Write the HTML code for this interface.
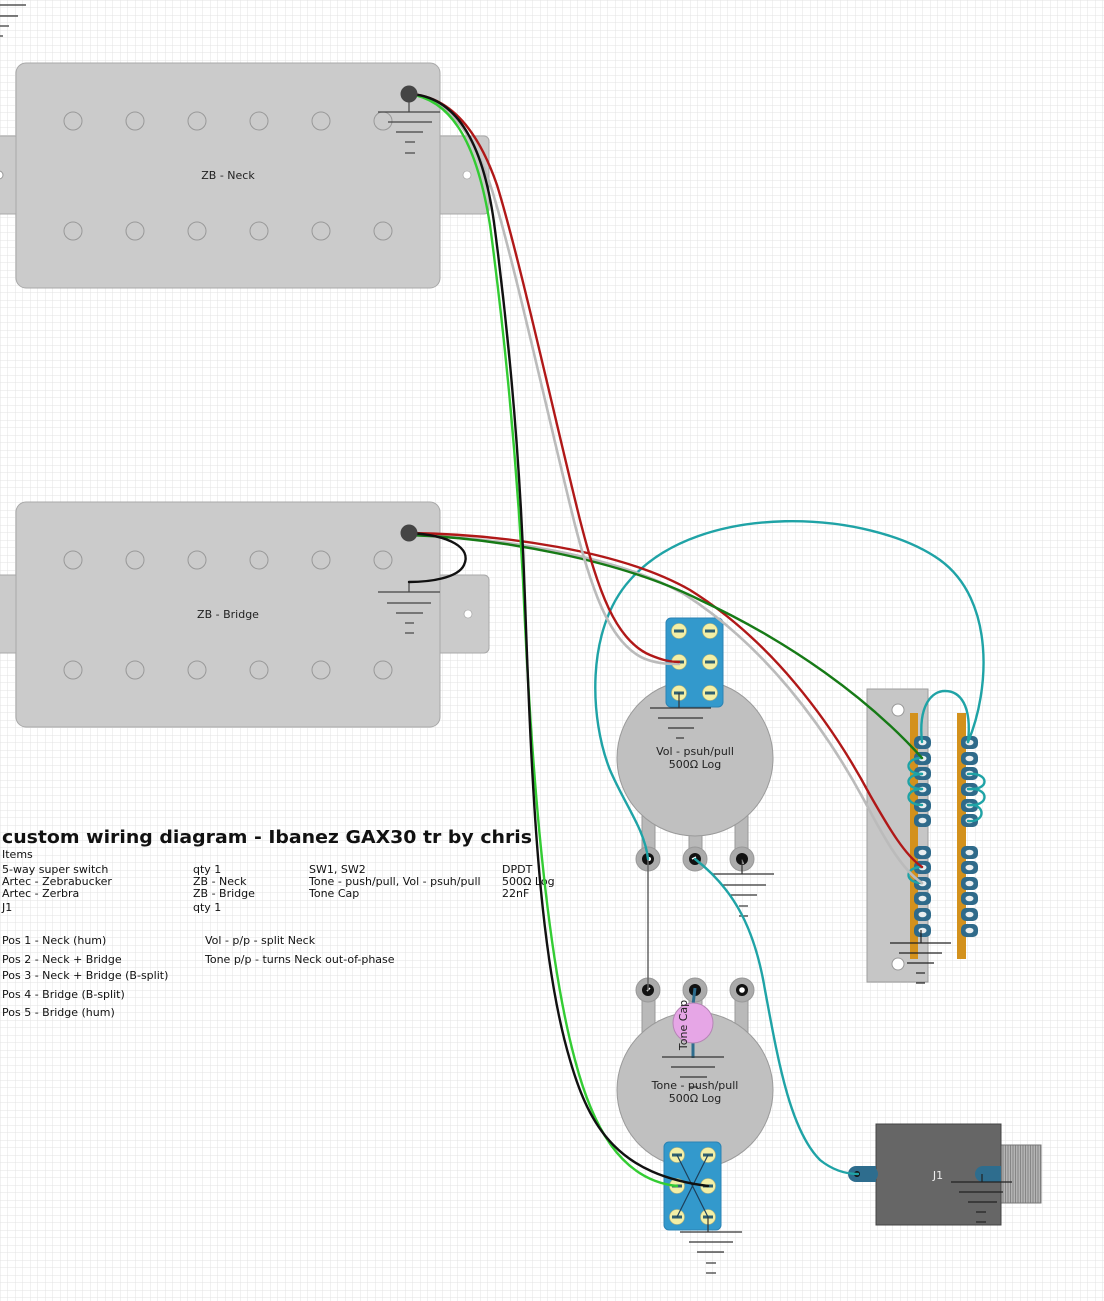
<!DOCTYPE html>
<html><head><meta charset="utf-8"><style>
html,body{margin:0;padding:0;background:#fff;}
svg{display:block;}
text{font-family:"DejaVu Sans","Liberation Sans",sans-serif;}
</style></head><body>
<svg width="1104" height="1301" viewBox="0 0 1104 1301" xmlns="http://www.w3.org/2000/svg">
<defs>
<pattern id="grid" width="7.5" height="7.5" patternUnits="userSpaceOnUse">
<path d="M7.5 0 L0 0 0 7.5" fill="none" stroke="#e3e3e3" stroke-width="1"/>
</pattern>
<pattern id="stripes" width="2.5" height="10" patternUnits="userSpaceOnUse">
<rect width="2.5" height="10" fill="#b4b4b4"/><line x1="0.5" y1="0" x2="0.5" y2="10" stroke="#7a7a7a" stroke-width="0.8"/>
</pattern>
</defs>
<rect width="1104" height="1301" fill="#fff"/>
<rect width="1104" height="1301" fill="url(#grid)"/>

<!-- top-left ground -->
<g stroke="#333" stroke-width="1.2">
<line x1="0" y1="5" x2="26" y2="5"/><line x1="0" y1="16" x2="18" y2="16"/><line x1="0" y1="26" x2="9" y2="26"/><line x1="0" y1="36" x2="3" y2="36"/>
</g>

<!-- NECK pickup -->
<g>
<rect x="-40" y="136" width="60" height="78" rx="5" fill="#cbcbcb" stroke="#a8a8a8"/>
<circle cx="-1" cy="175" r="4" fill="#fff" stroke="#999"/>
<rect x="425" y="136" width="64" height="78" rx="5" fill="#cbcbcb" stroke="#a8a8a8"/>
<circle cx="467" cy="175" r="4" fill="#fff" stroke="#999" stroke-width="0.6"/>
<rect x="16" y="63" width="424" height="225" rx="10" fill="#cbcbcb" stroke="#a8a8a8"/>
<g fill="none" stroke="#999" stroke-width="1">
<circle cx="73" cy="121" r="9"/><circle cx="135" cy="121" r="9"/><circle cx="197" cy="121" r="9"/><circle cx="259" cy="121" r="9"/><circle cx="321" cy="121" r="9"/><circle cx="383" cy="121" r="9"/>
<circle cx="73" cy="231" r="9"/><circle cx="135" cy="231" r="9"/><circle cx="197" cy="231" r="9"/><circle cx="259" cy="231" r="9"/><circle cx="321" cy="231" r="9"/><circle cx="383" cy="231" r="9"/>
</g>
<text x="228" y="179" font-size="11" text-anchor="middle" fill="#222">ZB - Neck</text>
<g stroke="#444" stroke-width="1.2">
<line x1="409" y1="94" x2="409" y2="112"/>
<line x1="378" y1="112" x2="440" y2="112"/><line x1="388" y1="122" x2="432" y2="122"/><line x1="396" y1="132" x2="423" y2="132"/><line x1="405" y1="142" x2="415" y2="142"/><line x1="405" y1="153" x2="415" y2="153"/>
</g>
</g>

<!-- BRIDGE pickup -->
<g>
<rect x="-40" y="575" width="60" height="78" rx="5" fill="#cbcbcb" stroke="#a8a8a8"/>
<rect x="425" y="575" width="64" height="78" rx="5" fill="#cbcbcb" stroke="#a8a8a8"/>
<circle cx="468" cy="614" r="4" fill="#fff" stroke="#999" stroke-width="0.6"/>
<rect x="16" y="502" width="424" height="225" rx="10" fill="#cbcbcb" stroke="#a8a8a8"/>
<g fill="none" stroke="#999" stroke-width="1">
<circle cx="73" cy="560" r="9"/><circle cx="135" cy="560" r="9"/><circle cx="197" cy="560" r="9"/><circle cx="259" cy="560" r="9"/><circle cx="321" cy="560" r="9"/><circle cx="383" cy="560" r="9"/>
<circle cx="73" cy="670" r="9"/><circle cx="135" cy="670" r="9"/><circle cx="197" cy="670" r="9"/><circle cx="259" cy="670" r="9"/><circle cx="321" cy="670" r="9"/><circle cx="383" cy="670" r="9"/>
</g>
<text x="228" y="618" font-size="11" text-anchor="middle" fill="#222">ZB - Bridge</text>
<g stroke="#444" stroke-width="1.2">
<line x1="409" y1="582" x2="409" y2="592"/>
<line x1="378" y1="592" x2="440" y2="592"/><line x1="387" y1="603" x2="431" y2="603"/><line x1="396" y1="613" x2="423" y2="613"/><line x1="405" y1="623" x2="414" y2="623"/><line x1="405" y1="633" x2="414" y2="633"/>
</g>
</g>

<!-- Text block -->
<text x="2" y="843" font-size="17.5" font-weight="bold" fill="#111" textLength="530" lengthAdjust="spacingAndGlyphs">custom wiring diagram - Ibanez GAX30 tr by chris</text>
<g font-size="11" fill="#111">
<text x="2" y="858">Items</text>
<text x="2" y="873">5-way super switch</text>
<text x="2" y="885">Artec - Zebrabucker</text>
<text x="2" y="897">Artec - Zerbra</text>
<text x="2" y="911">J1</text>
<text x="193" y="873">qty 1</text>
<text x="193" y="885">ZB - Neck</text>
<text x="193" y="897">ZB - Bridge</text>
<text x="193" y="911">qty 1</text>
<text x="309" y="873">SW1, SW2</text>
<text x="309" y="885">Tone - push/pull, Vol - psuh/pull</text>
<text x="309" y="897">Tone Cap</text>
<text x="502" y="873">DPDT</text>
<text x="502" y="885">500Ω Log</text>
<text x="502" y="897">22nF</text>
<text x="2" y="944">Pos 1 - Neck (hum)</text>
<text x="2" y="963">Pos 2 - Neck + Bridge</text>
<text x="2" y="979">Pos 3 - Neck + Bridge (B-split)</text>
<text x="2" y="998">Pos 4 - Bridge (B-split)</text>
<text x="2" y="1016">Pos 5 - Bridge (hum)</text>
<text x="205" y="944">Vol - p/p - split Neck</text>
<text x="205" y="963">Tone p/p - turns Neck out-of-phase</text>
</g>

<!-- VOL pot -->
<g>
<rect x="642" y="810" width="13" height="50" fill="#b9b9b9" stroke="#999"/>
<rect x="689" y="825" width="13" height="35" fill="#b9b9b9" stroke="#999"/>
<rect x="735" y="810" width="13" height="50" fill="#b9b9b9" stroke="#999"/>
<circle cx="695" cy="758" r="78" fill="#c0c0c0" stroke="#9a9a9a"/>
<text x="695" y="755" font-size="11" text-anchor="middle" fill="#222">Vol - psuh/pull</text>
<text x="695" y="768" font-size="11" text-anchor="middle" fill="#222">500Ω Log</text>
<g>
<circle cx="648" cy="859" r="12" fill="#ababab" stroke="#999"/><circle cx="648" cy="859" r="6" fill="#111"/><circle cx="649" cy="859" r="2" fill="#fff"/>
<circle cx="695" cy="859" r="12" fill="#ababab" stroke="#999"/><circle cx="695" cy="859" r="6" fill="#111"/><path d="M692 859 L696 857" stroke="#fff" stroke-width="1.5"/>
<circle cx="742" cy="859" r="12" fill="#ababab" stroke="#999"/><circle cx="742" cy="859" r="6" fill="#111"/><path d="M742 860 L743 864" stroke="#fff" stroke-width="1.5"/>
</g>
<g stroke="#333" stroke-width="1.2">
<line x1="742" y1="859" x2="742" y2="874"/>
<line x1="713" y1="874" x2="774" y2="874"/><line x1="722" y1="885" x2="766" y2="885"/><line x1="731" y1="895" x2="757" y2="895"/><line x1="739" y1="906" x2="748" y2="906"/><line x1="739" y1="916" x2="748" y2="916"/>
</g>
<!-- vol DPDT -->
<rect x="666" y="618" width="57" height="89" rx="5" fill="#3399cc" stroke="#2b83b3"/>
<g>
<circle cx="679" cy="631" r="7.5" fill="#f3efa6" stroke="#b9b377" stroke-width="0.6"/><rect x="674" y="629.5" width="10" height="3" fill="#2f5f70"/>
<circle cx="710" cy="631" r="7.5" fill="#f3efa6" stroke="#b9b377" stroke-width="0.6"/><rect x="705" y="629.5" width="10" height="3" fill="#2f5f70"/>
<circle cx="679" cy="662" r="7.5" fill="#f3efa6" stroke="#b9b377" stroke-width="0.6"/><rect x="674" y="660.5" width="10" height="3" fill="#2f5f70"/>
<circle cx="710" cy="662" r="7.5" fill="#f3efa6" stroke="#b9b377" stroke-width="0.6"/><rect x="705" y="660.5" width="10" height="3" fill="#2f5f70"/>
<circle cx="679" cy="693" r="7.5" fill="#f3efa6" stroke="#b9b377" stroke-width="0.6"/><rect x="674" y="691.5" width="10" height="3" fill="#2f5f70"/>
<circle cx="710" cy="693" r="7.5" fill="#f3efa6" stroke="#b9b377" stroke-width="0.6"/><rect x="705" y="691.5" width="10" height="3" fill="#2f5f70"/>
</g>
<g stroke="#333" stroke-width="1.2">
<line x1="679" y1="693" x2="679" y2="708"/>
<line x1="650" y1="708" x2="711" y2="708"/><line x1="658" y1="718" x2="703" y2="718"/><line x1="668" y1="728" x2="694" y2="728"/><line x1="676" y1="738" x2="684" y2="738"/>
</g>
</g>

<!-- TONE pot -->
<g>
<rect x="642" y="990" width="13" height="45" fill="#b9b9b9" stroke="#999"/>
<rect x="689" y="990" width="13" height="30" fill="#b9b9b9" stroke="#999"/>
<rect x="735" y="990" width="13" height="45" fill="#b9b9b9" stroke="#999"/>
<circle cx="695" cy="1090" r="78" fill="#c0c0c0" stroke="#9a9a9a"/>
<circle cx="648" cy="990" r="12" fill="#ababab" stroke="#999"/><circle cx="648" cy="990" r="6" fill="#111"/><path d="M647 991 L650 988" stroke="#fff" stroke-width="1.5"/>
<circle cx="695" cy="990" r="12" fill="#ababab" stroke="#999"/><circle cx="695" cy="990" r="6" fill="#111"/>
<circle cx="742" cy="990" r="12" fill="#ababab" stroke="#999"/><circle cx="742" cy="990" r="6" fill="#111"/><circle cx="742" cy="990" r="2.8" fill="#fff"/>
<line x1="695" y1="988" x2="693" y2="1005" stroke="#2e6d8e" stroke-width="3"/>
<line x1="693" y1="1040" x2="693" y2="1058" stroke="#2e6d8e" stroke-width="3"/>
<circle cx="693" cy="1023" r="20" fill="#e6a6e6" stroke="#b585b5"/>
<text transform="translate(687,1025) rotate(-90)" font-size="11" text-anchor="middle" fill="#222">Tone Cap</text>
<g stroke="#333" stroke-width="1.2">
<line x1="662" y1="1057" x2="724" y2="1057"/><line x1="671" y1="1067" x2="715" y2="1067"/><line x1="680" y1="1077" x2="707" y2="1077"/><line x1="689" y1="1087" x2="698" y2="1087"/>
</g>
<text x="695" y="1089" font-size="11" text-anchor="middle" fill="#222">Tone - push/pull</text>
<text x="695" y="1102" font-size="11" text-anchor="middle" fill="#222">500Ω Log</text>
<!-- tone DPDT -->
<rect x="664" y="1142" width="57" height="88" rx="5" fill="#3399cc" stroke="#2b83b3"/>
<g>
<circle cx="677" cy="1155" r="7.5" fill="#f3efa6" stroke="#b9b377" stroke-width="0.6"/><rect x="672" y="1153.5" width="10" height="3" fill="#2f5f70"/>
<circle cx="708" cy="1155" r="7.5" fill="#f3efa6" stroke="#b9b377" stroke-width="0.6"/><rect x="703" y="1153.5" width="10" height="3" fill="#2f5f70"/>
<circle cx="677" cy="1186" r="7.5" fill="#f3efa6" stroke="#b9b377" stroke-width="0.6"/><rect x="672" y="1184.5" width="10" height="3" fill="#2f5f70"/>
<circle cx="708" cy="1186" r="7.5" fill="#f3efa6" stroke="#b9b377" stroke-width="0.6"/><rect x="703" y="1184.5" width="10" height="3" fill="#2f5f70"/>
<circle cx="677" cy="1217" r="7.5" fill="#f3efa6" stroke="#b9b377" stroke-width="0.6"/><rect x="672" y="1215.5" width="10" height="3" fill="#2f5f70"/>
<circle cx="708" cy="1217" r="7.5" fill="#f3efa6" stroke="#b9b377" stroke-width="0.6"/><rect x="703" y="1215.5" width="10" height="3" fill="#2f5f70"/>
</g>
<g stroke="#1d3f5a" stroke-width="1.2">
<line x1="677" y1="1155" x2="708" y2="1217"/><line x1="708" y1="1155" x2="677" y2="1217"/>
</g>
<g stroke="#333" stroke-width="1.2">
<line x1="708" y1="1217" x2="708" y2="1232"/>
<line x1="680" y1="1232" x2="742" y2="1232"/><line x1="689" y1="1242" x2="733" y2="1242"/><line x1="697" y1="1252" x2="724" y2="1252"/><line x1="706" y1="1263" x2="716" y2="1263"/><line x1="706" y1="1273" x2="716" y2="1273"/>
</g>
</g>

<!-- 5-way switch -->
<g>
<rect x="867" y="689" width="61" height="293" fill="#c6c6c6" stroke="#9e9e9e"/>
<circle cx="898" cy="710" r="6" fill="#fff" stroke="#999"/>
<circle cx="898" cy="964" r="6" fill="#fff" stroke="#999"/>
<rect x="910" y="713" width="8" height="246" fill="#d3911c"/>
<rect x="957" y="713" width="9" height="246" fill="#d3911c"/>
<g fill="#2f6a8a">
<rect x="914" y="736" width="17" height="13" rx="5"/><rect x="914" y="752" width="17" height="13" rx="5"/><rect x="914" y="767" width="17" height="13" rx="5"/><rect x="914" y="783" width="17" height="13" rx="5"/><rect x="914" y="799" width="17" height="13" rx="5"/><rect x="914" y="814" width="17" height="13" rx="5"/>
<rect x="914" y="846" width="17" height="13" rx="5"/><rect x="914" y="861" width="17" height="13" rx="5"/><rect x="914" y="877" width="17" height="13" rx="5"/><rect x="914" y="892" width="17" height="13" rx="5"/><rect x="914" y="908" width="17" height="13" rx="5"/><rect x="914" y="924" width="17" height="13" rx="5"/>
<rect x="961" y="736" width="17" height="13" rx="5"/><rect x="961" y="752" width="17" height="13" rx="5"/><rect x="961" y="767" width="17" height="13" rx="5"/><rect x="961" y="783" width="17" height="13" rx="5"/><rect x="961" y="799" width="17" height="13" rx="5"/><rect x="961" y="814" width="17" height="13" rx="5"/>
<rect x="961" y="846" width="17" height="13" rx="5"/><rect x="961" y="861" width="17" height="13" rx="5"/><rect x="961" y="877" width="17" height="13" rx="5"/><rect x="961" y="892" width="17" height="13" rx="5"/><rect x="961" y="908" width="17" height="13" rx="5"/><rect x="961" y="924" width="17" height="13" rx="5"/>
</g>
<g fill="#e9eef0">
<ellipse cx="922.5" cy="742.5" rx="4" ry="2.8"/><ellipse cx="922.5" cy="758.5" rx="4" ry="2.8"/><ellipse cx="922.5" cy="773.5" rx="4" ry="2.8"/><ellipse cx="922.5" cy="789.5" rx="4" ry="2.8"/><ellipse cx="922.5" cy="805.5" rx="4" ry="2.8"/><ellipse cx="922.5" cy="820.5" rx="4" ry="2.8"/>
<ellipse cx="922.5" cy="852.5" rx="4" ry="2.8"/><ellipse cx="922.5" cy="867.5" rx="4" ry="2.8"/><ellipse cx="922.5" cy="883.5" rx="4" ry="2.8"/><ellipse cx="922.5" cy="898.5" rx="4" ry="2.8"/><ellipse cx="922.5" cy="914.5" rx="4" ry="2.8"/><ellipse cx="922.5" cy="930.5" rx="4" ry="2.8"/>
<ellipse cx="969.5" cy="742.5" rx="4" ry="2.8"/><ellipse cx="969.5" cy="758.5" rx="4" ry="2.8"/><ellipse cx="969.5" cy="773.5" rx="4" ry="2.8"/><ellipse cx="969.5" cy="789.5" rx="4" ry="2.8"/><ellipse cx="969.5" cy="805.5" rx="4" ry="2.8"/><ellipse cx="969.5" cy="820.5" rx="4" ry="2.8"/>
<ellipse cx="969.5" cy="852.5" rx="4" ry="2.8"/><ellipse cx="969.5" cy="867.5" rx="4" ry="2.8"/><ellipse cx="969.5" cy="883.5" rx="4" ry="2.8"/><ellipse cx="969.5" cy="898.5" rx="4" ry="2.8"/><ellipse cx="969.5" cy="914.5" rx="4" ry="2.8"/><ellipse cx="969.5" cy="930.5" rx="4" ry="2.8"/>
</g>
<g stroke="#222" stroke-width="1.2">
<line x1="921" y1="930" x2="921" y2="943"/>
<line x1="890" y1="943" x2="951" y2="943"/><line x1="899" y1="953" x2="942" y2="953"/><line x1="907" y1="963" x2="934" y2="963"/><line x1="916" y1="973" x2="925" y2="973"/><line x1="916" y1="983" x2="925" y2="983"/>
</g>
</g>

<!-- J1 jack -->
<g>
<rect x="1001" y="1145" width="40" height="58" fill="url(#stripes)" stroke="#777"/>
<rect x="876" y="1124" width="125" height="101" fill="#666" stroke="#444"/>
<rect x="848" y="1166" width="30" height="16" rx="8" fill="#2e6d8e"/>
<rect x="864" y="1166" width="12" height="16" fill="#2e6d8e"/>
<circle cx="857" cy="1174" r="3" fill="#111"/>
<rect x="975" y="1166" width="26" height="16" rx="8" fill="#2e6d8e"/>
<rect x="988" y="1166" width="13" height="16" fill="#2e6d8e"/>
<text x="938" y="1179" font-size="11" text-anchor="middle" fill="#eee">J1</text>
<g stroke="#222" stroke-width="1.2">
<line x1="982" y1="1174" x2="982" y2="1182"/>
<line x1="951" y1="1182" x2="1012" y2="1182"/><line x1="959" y1="1192" x2="1003" y2="1192"/><line x1="968" y1="1202" x2="997" y2="1202"/><line x1="976" y1="1212" x2="986" y2="1212"/><line x1="976" y1="1222" x2="986" y2="1222"/>
</g>
</g>

<!-- WIRES -->
<g fill="none" stroke-linecap="round">
<!-- grey wire vol -> tone -->
<line x1="648" y1="859" x2="648" y2="990" stroke="#666" stroke-width="1.5"/>
<!-- teal wires -->
<g stroke="#1fa3a6" stroke-width="2.4">
<path d="M968,742 C990,690 995,600 940,560 C870,510 700,500 630,580 C585,630 590,720 610,770 C625,805 645,830 648,859"/>
<path d="M922,742 C918,705 932,691 945,691 C960,691 972,705 968,742"/>
<path d="M922,758 C904,758 904,774 922,774"/>
<path d="M922,774 C904,774 904,789 922,789"/>
<path d="M922,789 C904,789 904,805 922,805"/>
<path d="M922,867 C904,867 904,883 922,883"/>
<path d="M968,774 C990,772 990,791 968,789"/>
<path d="M968,789 C990,787 990,807 968,805"/>
<path d="M968,805 C986,803 986,823 968,821"/>
<path d="M695,859 C735,890 755,930 765,990 C778,1060 790,1130 820,1160 C835,1172 848,1174 858,1174"/>
</g>
<!-- bridge wires -->
<path d="M409,535 C498,537 615,555 684,594 C764,645 824,726 864,800 C884,838 902,870 922,883" stroke="#bbbbbb" stroke-width="2.6"/>
<path d="M409,533 C500,534 620,550 690,590 C770,640 830,720 870,795 C890,830 905,855 922,867" stroke="#b01818" stroke-width="2.4"/>
<path d="M409,535 C500,538 620,560 700,600 C790,642 868,698 922,758" stroke="#167a16" stroke-width="2.4"/>
<path d="M409,533 C450,535 472,548 464,565 C458,578 430,582 409,582" stroke="#111" stroke-width="2.4"/>
<!-- neck wires -->
<path d="M409,94 C448,98 474,134 492,190 C515,265 550,425 575,525 C593,595 612,648 648,660 C660,664 670,664 679,664" stroke="#bbbbbb" stroke-width="2.6"/>
<path d="M409,94 C450,96 478,130 497,185 C520,260 555,420 580,520 C598,590 615,640 650,655 C662,660 670,662 679,662" stroke="#b01818" stroke-width="2.4"/>
<path d="M409,94 C455,100 478,150 490,225 C504,330 516,450 523,580 C532,790 548,960 575,1060 C592,1125 620,1180 677,1186" stroke="#33cc33" stroke-width="2.4"/>
<path d="M409,94 C460,96 485,150 495,230 C508,330 520,450 525,600 C532,800 540,960 570,1060 C590,1130 620,1175 708,1186" stroke="#111" stroke-width="2.4"/>
</g>
<!-- terminal dots -->
<circle cx="409" cy="94" r="8.5" fill="#454545"/>
<circle cx="409" cy="533" r="8.5" fill="#454545"/>
</svg>
</body></html>
